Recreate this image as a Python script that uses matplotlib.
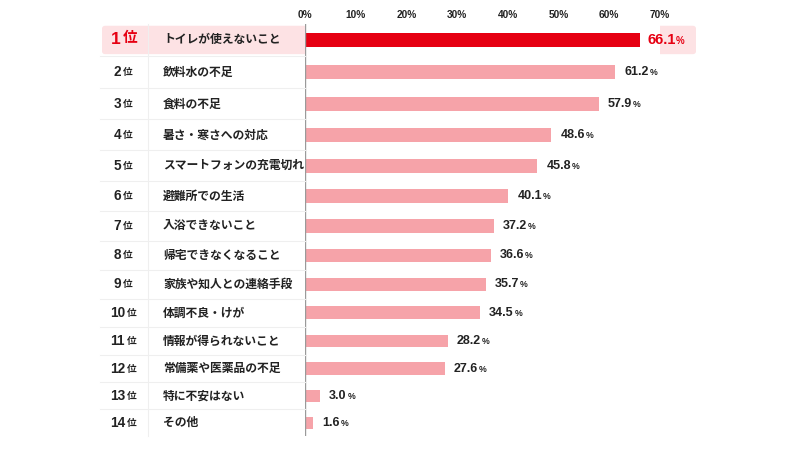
import numpy as np
import matplotlib
matplotlib.use("Agg")
import matplotlib.pyplot as plt
import matplotlib.transforms as mtransforms
from matplotlib.patches import FancyBboxPatch

# survey data: ranked answers and their shares (%)
ranks = list(range(1, 15))
items = ["トイレが使えないこと", "飲料水の不足", "食料の不足", "暑さ・寒さへの対応",
         "スマートフォンの充電切れ", "避難所での生活", "入浴できないこと",
         "帰宅できなくなること", "家族や知人との連絡手段", "体調不良・けが",
         "情報が得られないこと", "常備薬や医薬品の不足", "特に不安はない", "その他"]
values = [66.1, 61.2, 57.9, 48.6, 45.8, 40.1, 37.2, 36.6, 35.7, 34.5, 28.2, 27.6, 3.0, 1.6]
ticks = [0, 10, 20, 30, 40, 50, 60, 70]

RED = "#e60012"
PINK = "#f6a3a9"
HILITE = "#fde2e4"
TXT = "#222222"
JP = ["Noto Sans CJK JP", "DejaVu Sans"]
NUM = ["Liberation Sans", "DejaVu Sans"]

W, H = 800, 450
fig = plt.figure(figsize=(8, 4.5), dpi=100)


# rows get a little tighter towards the bottom in the original
def fwd(y):
    y = np.clip(y, -10, 60)
    return 32.3 * y - 0.22 * y * y


def inv(p):
    return (32.3 - np.sqrt(np.maximum(32.3 ** 2 - 0.88 * p, 0))) / 0.44


top_px, bot_px = 40 + fwd(-0.5), 40 + fwd(13.5)
ax = fig.add_axes([305 / W, 1 - bot_px / H, 355 / W, (bot_px - top_px) / H])
ax.set_yscale("function", functions=(fwd, inv))

y = np.arange(len(items))
colors = [RED] + [PINK] * (len(items) - 1)
ax.barh(y, values, height=0.45, color=colors, zorder=3)
ax.set_xlim(0, 70)
ax.set_ylim(13.5, -0.5)

for s in ax.spines.values():
    s.set_visible(False)
ax.set_yticks([])
ax.xaxis.tick_top()
ax.set_xticks(ticks)
ax.set_xticklabels([f"{t}%" for t in ticks], fontfamily=NUM, fontweight="bold",
                   fontsize=7.3, color=TXT)
ax.tick_params(axis="x", length=0, pad=3.0)
ax.axvline(0, color="#9a9a9a", lw=1, zorder=4)

trans = mtransforms.blended_transform_factory(fig.transFigure, ax.transData)

# highlight strip behind the first row
hl = FancyBboxPatch((102 / W, -0.44), (696 - 102) / W, 0.88,
                    boxstyle="round,pad=0,rounding_size=0.004", mutation_aspect=24,
                    transform=trans, facecolor=HILITE, edgecolor="none",
                    clip_on=False, zorder=0)
fig.add_artist(hl)

# faint grid of the left table
for i in range(len(items) - 1):
    fig.add_artist(plt.Line2D([100 / W, 305 / W], [i + 0.5, i + 0.5], transform=trans,
                              color="#efefef", lw=0.8, zorder=1))
fig.add_artist(plt.Line2D([148 / W, 148 / W], [-0.5, 13.5], transform=trans,
                          color="#efefef", lw=0.8, zorder=1))

for i, (r, name, v) in enumerate(zip(ranks, items, values)):
    first = i == 0
    col = RED if first else TXT
    xr = (121 if r < 10 else 125) / W
    t = fig.text(xr, i, str(r), transform=trans, ha="right", va="center",
                 fontfamily=NUM, fontweight="bold", fontsize=12.5 if first else 9.8,
                 color=col, zorder=5)
    fig.add_artist(plt.Annotation("位", xy=(1, 0), xycoords=t, xytext=(1.2, 1.5),
                                  textcoords="offset points", ha="left", va="bottom",
                                  fontfamily=JP, fontweight="bold",
                                  fontsize=10.5 if first else 7, color=col, zorder=5))
    fig.text(163 / W, i, name, transform=trans, ha="left", va="center",
             fontfamily=JP, fontweight="bold", fontsize=8.5, color=TXT, zorder=5)

    vt = ax.annotate(f"{v:.1f}", xy=(v, i), xytext=(5.0 if first else 6.5, 0),
                     textcoords="offset points", ha="left", va="center",
                     fontfamily=NUM, fontweight="bold",
                     fontsize=10.5 if first else 9, color=col,
                     annotation_clip=False, zorder=5)
    ax.annotate("%", xy=(1, 0), xycoords=vt, xytext=(0.5, 0.6),
                textcoords="offset points", ha="left", va="bottom",
                fontfamily=NUM, fontweight="bold",
                fontsize=7 if first else 6.3, color=col,
                annotation_clip=False, zorder=5)

fig.savefig("out.png", dpi=100, facecolor="white")
